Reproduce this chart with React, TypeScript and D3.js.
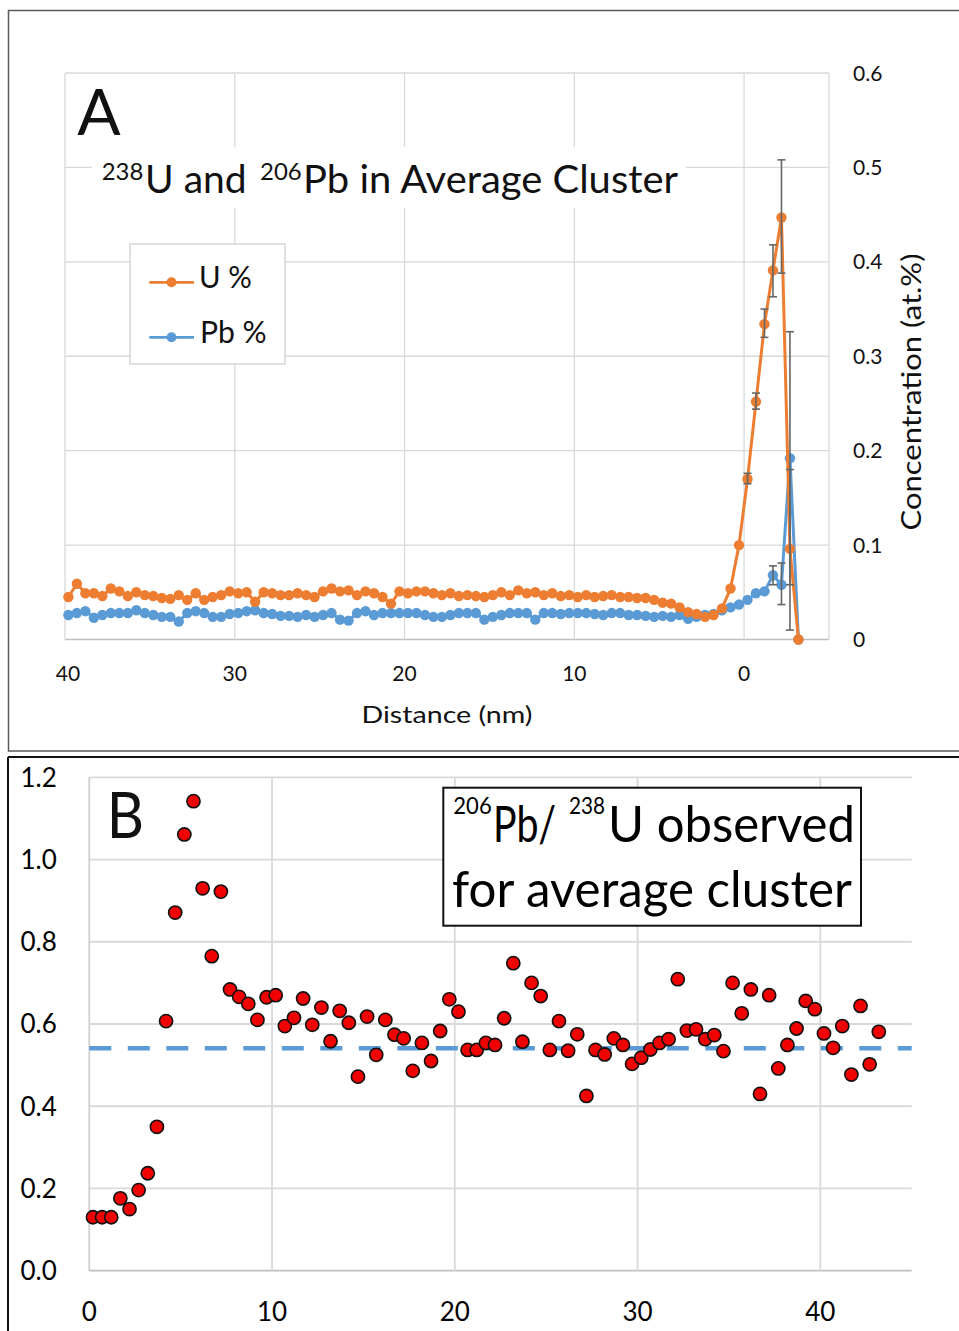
import React from 'react';
import * as d3 from 'd3';

// ---------- Panel A data ----------
const distanceA = [39.8,39.3,38.8,38.3,37.8,37.3,36.8,36.3,35.8,35.3,34.8,34.3,33.8,33.3,32.8,32.3,31.8,31.3,30.8,30.3,29.8,29.3,28.8,28.3,27.8,27.3,26.8,26.3,25.8,25.3,24.8,24.3,23.8,23.3,22.8,22.3,21.8,21.3,20.8,20.3,19.8,19.3,18.8,18.3,17.8,17.3,16.8,16.3,15.8,15.3,14.8,14.3,13.8,13.3,12.8,12.3,11.8,11.3,10.8,10.3,9.8,9.3,8.8,8.3,7.8,7.3,6.8,6.3,5.8,5.3,4.8,4.3,3.8,3.3,2.8,2.3,1.8,1.3,0.8,0.3,-0.2,-0.7,-1.2,-1.7,-2.2,-2.7,-3.2];
const uPct = [
  0.045,0.059,0.049,0.049,0.046,0.054,0.051,0.046,0.050,0.047,
  0.046,0.044,0.043,0.047,0.042,0.049,0.042,0.045,0.047,0.051,
  0.049,0.050,0.040,0.050,0.049,0.047,0.047,0.049,0.047,0.045,
  0.051,0.054,0.051,0.052,0.047,0.051,0.049,0.045,0.038,0.051,
  0.049,0.051,0.051,0.049,0.047,0.049,0.046,0.047,0.046,0.045,
  0.047,0.050,0.047,0.052,0.049,0.050,0.047,0.049,0.046,0.047,
  0.045,0.047,0.045,0.046,0.047,0.045,0.045,0.044,0.044,0.042,
  0.039,0.038,0.034,0.029,0.027,0.024,0.026,0.033,0.054,0.100,
  0.170,0.252,0.334,0.391,0.447,0.096,0.000];
const pbPct = [
  0.026,0.028,0.030,0.023,0.026,0.028,0.028,0.028,0.031,0.028,
  0.026,0.024,0.024,0.019,0.028,0.030,0.028,0.024,0.024,0.027,
  0.028,0.030,0.031,0.028,0.027,0.025,0.025,0.024,0.026,0.024,
  0.026,0.028,0.021,0.020,0.028,0.030,0.026,0.028,0.028,0.028,
  0.028,0.028,0.026,0.024,0.024,0.026,0.028,0.028,0.028,0.021,
  0.024,0.026,0.028,0.028,0.028,0.021,0.028,0.028,0.027,0.028,
  0.028,0.028,0.027,0.026,0.028,0.028,0.026,0.026,0.025,0.024,
  0.025,0.024,0.026,0.022,0.024,0.026,0.027,0.031,0.034,0.037,
  0.042,0.049,0.051,0.068,0.058,0.192,0.000];
const uErrX = [-0.2,-0.7,-1.2,-1.7,-2.2,-2.7];
const uErrLow = [0.165,0.244,0.320,0.363,0.388,0.010];
const uErrHigh = [0.176,0.261,0.350,0.418,0.508,0.180];
const pbErrX = [-1.7,-2.2,-2.7];
const pbErrLow = [0.058,0.037,0.058];
const pbErrHigh = [0.078,0.081,0.326];
const xTicksA = [40,30,20,10,0];
const xTickLabelsA = ['40','30','20','10','0'];
const yTicksA = [0,0.1,0.2,0.3,0.4,0.5,0.6];
const yTickLabelsA = ['0','0.1','0.2','0.3','0.4','0.5','0.6'];

// ---------- Panel B data ----------
const ratioX = [0.2,0.7,1.2,1.7,2.2,2.7,3.2,3.7,4.2,4.7,5.2,5.7,6.2,6.7,7.2,7.7,8.2,8.7,9.2,9.7,10.2,10.7,11.2,11.7,12.2,12.7,13.2,13.7,14.2,14.7,15.2,15.7,16.2,16.7,17.2,17.7,18.2,18.7,19.2,19.7,20.2,20.7,21.2,21.7,22.2,22.7,23.2,23.7,24.2,24.7,25.2,25.7,26.2,26.7,27.2,27.7,28.2,28.7,29.2,29.7,30.2,30.7,31.2,31.7,32.2,32.7,33.2,33.7,34.2,34.7,35.2,35.7,36.2,36.7,37.2,37.7,38.2,38.7,39.2,39.7,40.2,40.7,41.2,41.7,42.2,42.7,43.2];
const ratioB = [
  0.130,0.130,0.130,0.176,0.150,0.196,0.237,0.350,0.607,0.871,
  1.061,1.142,0.930,0.765,0.922,0.684,0.666,0.649,0.610,0.665,
  0.670,0.595,0.615,0.662,0.598,0.640,0.558,0.632,0.603,0.472,
  0.618,0.525,0.610,0.574,0.565,0.486,0.554,0.510,0.583,0.660,
  0.630,0.537,0.537,0.554,0.549,0.614,0.748,0.557,0.700,0.668,
  0.537,0.607,0.535,0.575,0.425,0.537,0.526,0.565,0.549,0.503,
  0.518,0.538,0.554,0.563,0.709,0.584,0.587,0.563,0.573,0.534,
  0.700,0.626,0.684,0.430,0.670,0.492,0.549,0.589,0.656,0.636,
  0.577,0.542,0.595,0.477,0.644,0.502,0.581];
const meanRatio = 0.541;
const xTicksB = [0,10,20,30,40];
const xTickLabelsB = ['0','10','20','30','40'];
const yTicksB = [0,0.2,0.4,0.6,0.8,1.0,1.2];
const yTickLabelsB = ['0.0','0.2','0.4','0.6','0.8','1.0','1.2'];

const FONT = 'Lato, "Open Sans", "DejaVu Sans", sans-serif';
const ORANGE = '#ED7D31';
const BLUE = '#5B9BD5';
const GRID = '#d9d9d9';

type TP = { x: number; y: number; size: number; len?: number; anchor?: string; fill?: string; children: React.ReactNode; transform?: string; dy?: string };
const T = ({ x, y, size, len, anchor = 'start', fill = '#111', children, transform, dy }: TP) => (
  <text x={x} y={y} dy={dy} fontSize={size} fontFamily={FONT} textAnchor={anchor as any} fill={fill}
    textLength={len} lengthAdjust={len ? 'spacingAndGlyphs' : undefined} transform={transform}>{children}</text>
);

export default function App() {
  const xA = d3.scaleLinear().domain([40, -5]).range([65, 829]);
  const yA = d3.scaleLinear().domain([0, 0.6]).range([639.5, 73]);
  const xB = d3.scaleLinear().domain([0, 45]).range([89.3, 911.7]);
  const yB = d3.scaleLinear().domain([0, 1.2]).range([1270.7, 777.3]);

  const lineA = d3.line<number>().x((_, i) => xA(distanceA[i])).y((d) => yA(d));
  const gridXA = [...xTicksA, -5];

  return (
    <svg width={959} height={1331} style={{ position: 'absolute', left: 0, top: 0, background: '#fff' }}>
      <rect x={0} y={0} width={959} height={1331} fill="#fff" />
      {/* ---------------- Panel A ---------------- */}
      <rect x={8.5} y={10.5} width={960} height={740.5} fill="none" stroke="#5a5a5a" strokeWidth={1.5} />
      {yTicksA.map((t) => (
        <line key={'gya' + t} x1={65} x2={829} y1={yA(t)} y2={yA(t)} stroke={t === 0 ? '#bfbfbf' : GRID} strokeWidth={1.3} />
      ))}
      {gridXA.map((t) => (
        <line key={'gxa' + t} x1={xA(t)} x2={xA(t)} y1={73} y2={639.5} stroke={GRID} strokeWidth={1.3} />
      ))}
      {/* title background */}
      <rect x={92} y={147} width={594} height={61} fill="#fff" />
      <T x={101.7} y={180} size={24} len={41.6}>238</T>
      <T x={145} y={193.3} size={38} len={101.7}>U and</T>
      <T x={260} y={180} size={24} len={41.7}>206</T>
      <T x={303} y={193.3} size={38} len={375}>Pb in Average Cluster</T>
      <T x={77.3} y={135} size={63} len={43.4}>A</T>

      {/* legend */}
      <rect x={130} y={244} width={155} height={120} fill="#fff" stroke="#cfcfcf" strokeWidth={1.3} />
      <line x1={149.3} x2={194} y1={282.3} y2={282.3} stroke={ORANGE} strokeWidth={2.8} />
      <circle cx={171.5} cy={282.3} r={5} fill={ORANGE} />
      <T x={199} y={288.3} size={30} len={52.7}>U %</T>
      <line x1={149.3} x2={194} y1={337.3} y2={337.3} stroke={BLUE} strokeWidth={2.8} />
      <circle cx={171.5} cy={337.3} r={5} fill={BLUE} />
      <T x={200} y={343.3} size={30} len={66.7}>Pb %</T>

      {/* series */}
      <path d={lineA(pbPct) || ''} fill="none" stroke={BLUE} strokeWidth={3} />
      {pbPct.map((v, i) => (
        <circle key={'pb' + i} cx={xA(distanceA[i])} cy={yA(v)} r={5.2} fill={BLUE} />
      ))}
      <path d={lineA(uPct) || ''} fill="none" stroke={ORANGE} strokeWidth={3} />
      {uPct.map((v, i) => (
        <circle key={'u' + i} cx={xA(distanceA[i])} cy={yA(v)} r={5.2} fill={ORANGE} />
      ))}
      {/* error bars */}
      {uErrX.map((x, i) => (
        <g key={'ue' + i} stroke="#666" strokeWidth={1.6}>
          <line x1={xA(x)} x2={xA(x)} y1={yA(uErrLow[i])} y2={yA(uErrHigh[i])} />
          <line x1={xA(x) - 4} x2={xA(x) + 4} y1={yA(uErrLow[i])} y2={yA(uErrLow[i])} />
          <line x1={xA(x) - 4} x2={xA(x) + 4} y1={yA(uErrHigh[i])} y2={yA(uErrHigh[i])} />
        </g>
      ))}
      {pbErrX.map((x, i) => (
        <g key={'pe' + i} stroke="#666" strokeWidth={1.6}>
          <line x1={xA(x)} x2={xA(x)} y1={yA(pbErrLow[i])} y2={yA(pbErrHigh[i])} />
          <line x1={xA(x) - 4} x2={xA(x) + 4} y1={yA(pbErrLow[i])} y2={yA(pbErrLow[i])} />
          <line x1={xA(x) - 4} x2={xA(x) + 4} y1={yA(pbErrHigh[i])} y2={yA(pbErrHigh[i])} />
        </g>
      ))}

      {/* axes labels A */}
      {xTicksA.map((t, i) => (
        <T key={'xla' + t} x={xA(t) + (i === 0 ? 3 : 0)} y={681} size={21} anchor="middle">{xTickLabelsA[i]}</T>
      ))}
      {yTicksA.map((t, i) => (
        <T key={'yla' + t} x={853} y={yA(t)} dy="0.36em" size={21}>{yTickLabelsA[i]}</T>
      ))}
      <T x={447} y={723} size={24} len={171} anchor="middle">Distance (nm)</T>
      <T x={0} y={0} size={26} len={277} anchor="middle" transform="translate(921,392) rotate(-90)">Concentration (at.%)</T>

      {/* ---------------- Panel B ---------------- */}
      <line x1={8} x2={959} y1={757} y2={757} stroke="#111" strokeWidth={2} />
      <line x1={8} x2={8} y1={757} y2={1331} stroke="#111" strokeWidth={2} />
      {yTicksB.map((t) => (
        <line key={'gyb' + t} x1={89.3} x2={911.7} y1={yB(t)} y2={yB(t)} stroke={t === 0 ? '#bfbfbf' : GRID} strokeWidth={1.8} />
      ))}
      {xTicksB.map((t) => (
        <line key={'gxb' + t} x1={xB(t)} x2={xB(t)} y1={777.3} y2={1270.7} stroke={t === 0 ? '#cfcfcf' : GRID} strokeWidth={1.8} />
      ))}
      {yTicksB.map((t, i) => (
        <T key={'ylb' + t} x={20.5} y={yB(t)} dy="0.36em" size={26} fill="#000">{yTickLabelsB[i]}</T>
      ))}
      {xTicksB.map((t, i) => (
        <T key={'xlb' + t} x={xB(t)} y={1321} size={26} anchor="middle" fill="#000">{xTickLabelsB[i]}</T>
      ))}
      <line x1={89.3} x2={911.7} y1={yB(meanRatio)} y2={yB(meanRatio)} stroke={BLUE} strokeWidth={4.5} strokeDasharray="22 16.5" />
      {ratioB.map((v, i) => (
        <circle key={'r' + i} cx={xB(ratioX[i])} cy={yB(v)} r={6.6} fill="#f00000" stroke="#111" strokeWidth={1.6} />
      ))}
      <T x={106.7} y={838.3} size={64} len={37.3} fill="#111">B</T>
      <rect x={443.3} y={787.7} width={417.7} height={138} fill="#fff" stroke="#111" strokeWidth={2} />
      <T x={453.3} y={814} size={23} len={38.4} fill="#000">206</T>
      <T x={493} y={841.7} size={50} len={63} fill="#000">Pb/</T>
      <T x={569} y={814} size={23} len={36} fill="#000">238</T>
      <T x={608} y={841.7} size={50} len={247} fill="#000">U observed</T>
      <T x={452} y={906.7} size={50} len={400} fill="#000">for average cluster</T>
    </svg>
  );
}
